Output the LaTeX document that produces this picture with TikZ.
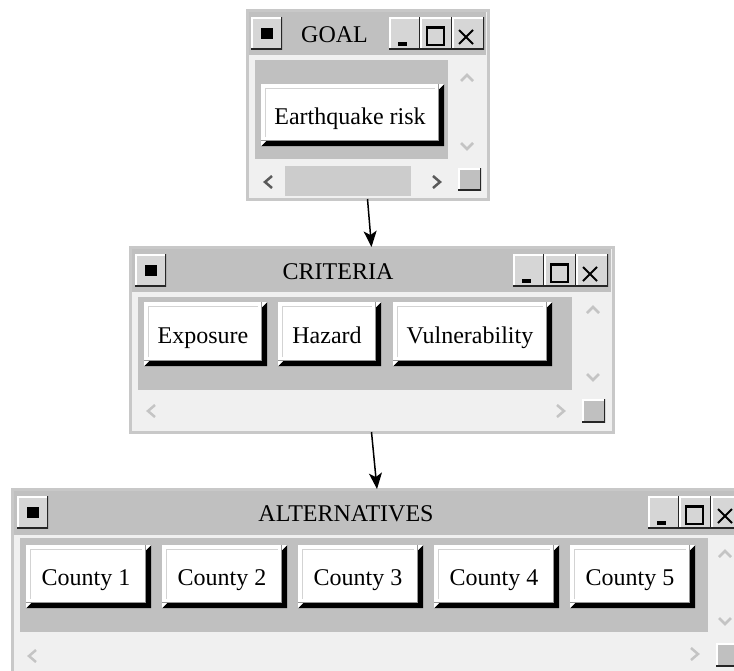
\documentclass[tikz,border=0pt]{standalone}
\usepackage{fontspec}
\setmainfont{Liberation Serif}
\usetikzlibrary{arrows.meta}

\definecolor{barGray}{RGB}{192,192,192}
\definecolor{paneGray}{RGB}{240,240,240}
\definecolor{frameGray}{RGB}{200,200,200}
\definecolor{faceGray}{RGB}{214,214,214}
\definecolor{thumbGray}{RGB}{204,204,204}
\definecolor{offGray}{RGB}{196,196,196}
\definecolor{onGray}{RGB}{90,90,90}
\definecolor{rimGray}{RGB}{150,150,150}

\begin{document}
\begin{tikzpicture}[x=1pt,y=-1pt,
    every node/.style={font=\fontsize{24}{28}\selectfont},
    winframe/.style={rectangle,draw=frameGray,fill=paneGray,line width=3pt,inner sep=0pt,outer sep=0pt},
    tbbtn/.style={rectangle,fill=faceGray,inner sep=0pt,outer sep=0pt,anchor=north west,
      minimum width=31pt,minimum height=32pt,
      path picture={
        \draw[white,line width=3pt] (path picture bounding box.south west) |- (path picture bounding box.north east);
        \draw[black!85,line width=3pt] (path picture bounding box.south west) -| (path picture bounding box.north east);}},
    pushbtn/.style={rectangle,fill=white,inner sep=0pt,outer sep=0pt,anchor=north west,
      text height=27pt,text depth=4pt,
      path picture={
        \draw[barGray!70,line width=1.5pt] ([shift={(4.5pt,4pt)}]path picture bounding box.south west) |- ([shift={(-4pt,-4.5pt)}]path picture bounding box.north east);
        \draw[rimGray,line width=3pt] (path picture bounding box.south west) -| (path picture bounding box.north east);}},
    chevoff/.style={draw=offGray,line width=2.5pt},
    chevon/.style={draw=onGray,line width=2.5pt},
    flow/.style={line width=1.5pt,-{Stealth[length=16pt,width=13pt,inset=4pt]}}
  ]
  \useasboundingbox (0,0) rectangle (734,670);
  \clip (0,0) rectangle (734,670);
  \fill[white] (0,0) rectangle (734,670);

  % windows
  \node[winframe,minimum width=241pt,minimum height=189pt] (goal) at (367.5,104.5) {};
  \node[winframe,minimum width=483pt,minimum height=185pt] (crit) at (371.5,339.5) {};
  \node[winframe,minimum width=730pt,minimum height=231pt] (alts) at (377,604.5) {};

  % title bars and panes
  \fill[barGray] (249,12) rectangle (486,55);
  \fill[barGray] (255,60) rectangle (448,159);
  \fill[barGray] (132,249) rectangle (611,292);
  \fill[barGray] (138,297) rectangle (572,390);
  \fill[barGray] (14,491) rectangle (740,535);
  \fill[barGray] (20,538) rectangle (708,632);

  \node (goaltitle) at (334.5,35) {GOAL};
  \node (crittitle) at (338,271.5) {CRITERIA};
  \node (altstitle) at (346,514) {ALTERNATIVES};

  % title buttons
  \foreach \w/\sx/\bx/\by in {g/251/389/17, c/135/513/254, a/17/648/496}{
    \node[tbbtn] (\w sys) at (\sx,\by) {};
    \node[tbbtn] (\w min) at (\bx,\by) {};
    \node[tbbtn,minimum width=32pt] (\w max) at (\bx+31,\by) {};
    \node[tbbtn,minimum width=32pt] (\w close) at (\bx+63,\by) {};
    \fill ([shift={(-6pt,-5.5pt)}]\w sys.center) rectangle ++(12pt,11pt);
    \fill ([shift={(-7pt,3pt)}]\w min.south) rectangle ++(9pt,4pt);
    \draw[line width=1.5pt] ([shift={(-9pt,6pt)}]\w max.center) rectangle ([shift={(8pt,-12pt)}]\w max.center);
    \draw[line width=3pt] ([shift={(-9pt,5.5pt)}]\w max.center) -- ([shift={(8pt,5.5pt)}]\w max.center);
    \draw[line width=2pt] ([shift={(-9pt,3pt)}]\w close.center) -- ++(14pt,-14pt)
      ([shift={(-9pt,-11pt)}]\w close.center) -- ++(14pt,14pt);
  }

  % scroll bars
  \draw[chevoff] (461,81) -- (467,75) -- (473,81);
  \draw[chevoff] (461,143) -- (467,149) -- (473,143);
  \draw[chevon] (272,176) -- (265,182) -- (272,188);
  \draw[chevon] (433,176) -- (440,182) -- (433,188);
  \fill[thumbGray] (285,166) rectangle (411,196);
  \node[tbbtn,fill=barGray,minimum width=23pt,minimum height=22pt] (ggrip) at (458,168) {};

  \draw[chevoff] (587,313) -- (593,307) -- (599,313);
  \draw[chevoff] (587,374) -- (593,380) -- (599,374);
  \draw[chevoff] (155,405) -- (148,411) -- (155,417);
  \draw[chevoff] (557,405) -- (564,411) -- (557,417);
  \node[tbbtn,fill=barGray,minimum width=23pt,minimum height=23pt] (cgrip) at (582,399) {};

  \draw[chevoff] (719,557) -- (725,551) -- (731,557);
  \draw[chevoff] (719,618) -- (725,624) -- (731,618);
  \draw[chevoff] (36,650) -- (29,656) -- (36,662);
  \draw[chevoff] (691,648) -- (698,654) -- (691,660);
  \node[tbbtn,fill=barGray,minimum width=23pt,minimum height=23pt] (agrip) at (716,643) {};

  % buttons
  \node[pushbtn,minimum width=178pt,minimum height=57pt] (eqrisk) at (261,84) {Earthquake risk};
  \node[pushbtn,minimum width=118pt,minimum height=59pt] (expo) at (144,302) {Exposure};
  \node[pushbtn,minimum width=98pt,minimum height=59pt] (haz) at (278,302) {Hazard};
  \node[pushbtn,minimum width=154pt,minimum height=59pt] (vuln) at (393,302) {Vulnerability};
  \foreach \k in {1,...,5}
    \node[pushbtn,minimum width=120pt,minimum height=58pt] (cty\k) at ({26+136*(\k-1)},545) {County \k};

  \foreach \b in {eqrisk,expo,haz,vuln,cty1,cty2,cty3,cty4,cty5}{
    \fill[black] ([xshift=5pt]\b.north east) -- ([shift={(5pt,-5pt)}]\b.south east) -- ([yshift=-5pt]\b.south west)
      -- ([xshift=5pt]\b.south west) -- (\b.south east) -- ([yshift=-5pt]\b.north east) -- cycle;
    \fill[white] (\b.south west) -- ([xshift=5pt]\b.south west) -- ([yshift=-5pt]\b.south west) -- cycle;
    \fill[white] (\b.north east) -- ([xshift=5pt]\b.north east) -- ([yshift=-5pt]\b.north east) -- cycle;
  }

  \draw[flow] (goal.south) -- (crit.north);
  \draw[flow] (crit.south) -- (alts.north);
\end{tikzpicture}
\end{document}
